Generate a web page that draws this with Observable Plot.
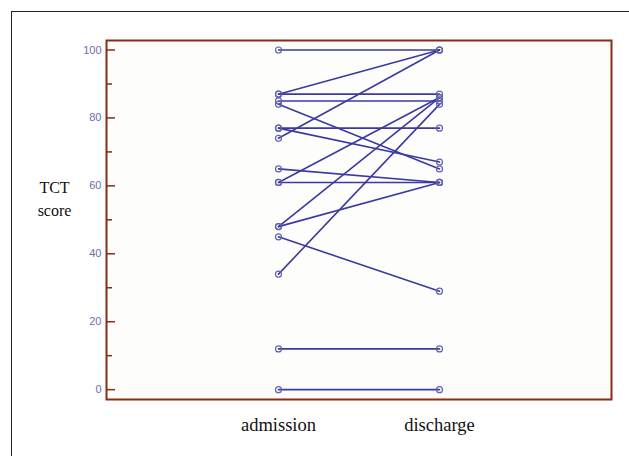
<!DOCTYPE html>
<html><head><meta charset="utf-8">
<script src="https://cdn.jsdelivr.net/npm/d3@7"></script>
<script src="https://cdn.jsdelivr.net/npm/@observablehq/plot@0.6"></script>
<style>
body{margin:0;background:#fff;}
#wrap{position:relative;width:629px;height:456px;overflow:hidden;background:#fff;}
#border{position:absolute;left:11px;top:11px;width:700px;height:520px;border:1.5px solid #222;box-sizing:border-box;}
#chart{position:absolute;left:0;top:0;}
</style></head><body>
<div id="wrap"><div id="border"></div><div id="chart"></div></div>
<script>
const stages = ["admission", "discharge"];
const admission = [100, 87, 87, 85, 84, 77, 77, 74, 65, 61, 61, 48, 48, 45, 34, 12, 0];
const discharge = [100, 100, 87, 85, 65, 77, 67, 100, 61, 61, 86, 61, 86, 29, 84, 12, 0];
const yTicks = [0, 20, 40, 60, 80, 100];
const yMinorTicks = [10, 30, 50, 70, 90];
const yLabel = "TCT\nscore";

const long = admission.flatMap((a, i) => [
  {id: i, stage: stages[0], score: a},
  {id: i, stage: stages[1], score: discharge[i]}
]);

const lineColor = "#3a3aa2";
const dotColor = "#6464ad";
const frameColor = "#8a2c12";
const frameW = 629 - 106 - 18;
const serif = "'Liberation Serif', 'Times New Roman', serif";

const plot = Plot.plot({
  width: 629, height: 456,
  marginLeft: 106, marginRight: 18, marginTop: 40, marginBottom: 57,
  style: {background: "transparent", fontFamily: "'Liberation Sans', Arial, sans-serif", overflow: "visible"},
  x: {type: "point", domain: stages, padding: 1.06, axis: null},
  y: {domain: [-2.9, 102.8], axis: null},
  marks: [
    Plot.frame({fill: "#fdfdfc", stroke: "none"}),
    Plot.line(long, {x: "stage", y: "score", z: "id", stroke: lineColor, strokeWidth: 1.6}),
    Plot.dot(long, {x: "stage", y: "score", r: 3, stroke: dotColor, strokeWidth: 1.2, fill: "none"}),
    Plot.ruleY(yTicks, {y: d => d, stroke: frameColor, strokeWidth: 1.5, insetRight: frameW - 9}),
    Plot.ruleY(yMinorTicks, {y: d => d, stroke: frameColor, strokeWidth: 1.5, insetRight: frameW - 6}),
    Plot.frame({stroke: frameColor, strokeWidth: 2}),
    Plot.axisY({ticks: yTicks, tickSize: 0, tickPadding: 5, fill: "#6c6cae", fontSize: 11, label: null}),
    Plot.axisX({tickSize: 0, tickPadding: 18, fontSize: 18.5, fontFamily: serif, fill: "#111", stroke: "#111", strokeWidth: 0.3, label: null}),
    Plot.text([yLabel], {text: d => d, frameAnchor: "left", dx: -52, dy: -22.5, textAnchor: "middle", lineHeight: 1.42, fontSize: 16, fontFamily: serif, fill: "#111"})
  ]
});
document.getElementById("chart").appendChild(plot);
</script>
</body></html>
